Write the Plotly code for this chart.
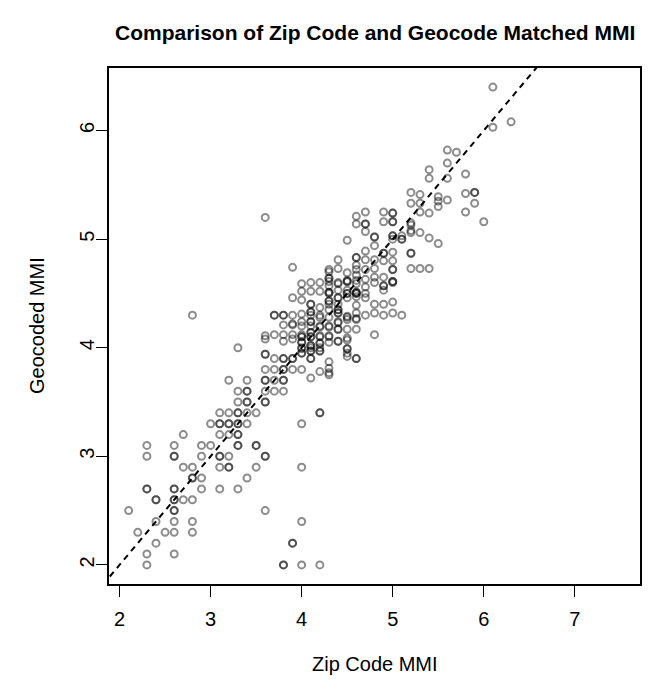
import plotly.graph_objects as go

# Zip code matched MMI (x) and geocode matched MMI (y)
zip_mmi = [
    2.1,
    2.2,
    2.3, 2.3, 2.3, 2.3, 2.3, 2.3,
    2.4, 2.4, 2.4, 2.4,
    2.5,
    2.6, 2.6, 2.6, 2.6, 2.6, 2.6, 2.6, 2.6, 2.6, 2.6, 2.6, 2.6,
    2.7, 2.7, 2.7,
    2.8, 2.8, 2.8, 2.8, 2.8, 2.8, 2.8,
    2.9, 2.9, 2.9, 2.9,
    3.0, 3.0,
    3.1, 3.1, 3.1, 3.1, 3.1, 3.1, 3.1, 3.1,
    3.2, 3.2, 3.2, 3.2, 3.2, 3.2, 3.2, 3.2,
    3.3, 3.3, 3.3, 3.3, 3.3, 3.3, 3.3, 3.3, 3.3, 3.3, 3.3, 3.3,
    3.4, 3.4, 3.4, 3.4, 3.4, 3.4, 3.4, 3.4,
    3.5, 3.5, 3.5, 3.5,
    3.6, 3.6, 3.6, 3.6, 3.6, 3.6, 3.6, 3.6, 3.6, 3.6, 3.6, 3.6, 3.6, 3.6,
    3.7, 3.7, 3.7, 3.7, 3.7, 3.7, 3.7,
    3.8, 3.8, 3.8, 3.8, 3.8, 3.8, 3.8, 3.8, 3.8, 3.8, 3.8, 3.8, 3.8, 3.8,
    3.9, 3.9, 3.9, 3.9, 3.9, 3.9, 3.9, 3.9, 3.9, 3.9, 3.9, 3.9,
    4.0, 4.0, 4.0, 4.0, 4.0, 4.0, 4.0, 4.0, 4.0, 4.0, 4.0, 4.0, 4.0, 4.0, 4.0, 4.0, 4.0,
    4.0, 4.0, 4.0,
    4.1, 4.1, 4.1, 4.1, 4.1, 4.1, 4.1, 4.1, 4.1, 4.1, 4.1, 4.1, 4.1, 4.1, 4.1, 4.1, 4.1, 4.1,
    4.1, 4.1, 4.1, 4.1,
    4.2, 4.2, 4.2, 4.2, 4.2, 4.2, 4.2, 4.2, 4.2, 4.2, 4.2, 4.2, 4.2, 4.2, 4.2,
    4.2, 4.2, 4.2,
    4.3, 4.3, 4.3, 4.3, 4.3, 4.3, 4.3, 4.3, 4.3, 4.3, 4.3, 4.3, 4.3, 4.3, 4.3, 4.3, 4.3, 4.3, 4.3, 4.3, 4.3,
    4.3, 4.3,
    4.4, 4.4, 4.4, 4.4, 4.4, 4.4, 4.4, 4.4, 4.4, 4.4, 4.4, 4.4, 4.4, 4.4, 4.4, 4.4,
    4.4, 4.4,
    4.5, 4.5, 4.5, 4.5, 4.5, 4.5, 4.5, 4.5, 4.5, 4.5, 4.5, 4.5, 4.5, 4.5, 4.5, 4.5, 4.5, 4.5, 4.5,
    4.6, 4.6, 4.6, 4.6, 4.6, 4.6, 4.6, 4.6, 4.6, 4.6, 4.6, 4.6, 4.6, 4.6, 4.6, 4.6, 4.6, 4.6, 4.6, 4.6, 4.6,
    4.7, 4.7, 4.7, 4.7, 4.7, 4.7, 4.7, 4.7, 4.7, 4.7, 4.7, 4.7,
    4.8, 4.8, 4.8, 4.8, 4.8, 4.8, 4.8, 4.8, 4.8, 4.8,
    4.9, 4.9, 4.9, 4.9, 4.9, 4.9, 4.9, 4.9, 4.9, 4.9, 4.9,
    5.0, 5.0, 5.0, 5.0, 5.0, 5.0, 5.0, 5.0, 5.0, 5.0, 5.0, 5.0, 5.0, 5.0, 5.0, 5.0,
    5.1, 5.1, 5.1, 5.1,
    5.2, 5.2, 5.2, 5.2, 5.2, 5.2, 5.2, 5.2, 5.2,
    5.3, 5.3, 5.3, 5.3, 5.3,
    5.4, 5.4, 5.4, 5.4, 5.4,
    5.5, 5.5, 5.5, 5.5,
    5.6, 5.6, 5.6, 5.6,
    5.7,
    5.8, 5.8, 5.8,
    5.9, 5.9, 5.9,
    6.0,
    6.1, 6.1,
    6.3,
]

geo_mmi = [
    2.5,
    2.3,
    3.1, 3.0, 2.7, 2.7, 2.1, 2.0,
    2.6, 2.6, 2.4, 2.2,
    2.3,
    3.1, 3.0, 3.0, 2.7, 2.7, 2.6, 2.6, 2.5, 2.5, 2.4, 2.3, 2.1,
    3.2, 2.9, 2.6,
    4.3, 2.9, 2.8, 2.8, 2.6, 2.4, 2.3,
    3.1, 3.0, 2.8, 2.7,
    3.3, 3.1,
    3.4, 3.3, 3.3, 3.2, 3.0, 3.0, 2.9, 2.7,
    3.7, 3.4, 3.3, 3.3, 3.2, 3.0, 2.9, 2.9,
    4.0, 3.6, 3.5, 3.4, 3.4, 3.3, 3.3, 3.2, 3.2, 3.1, 3.1, 2.7,
    3.7, 3.6, 3.6, 3.5, 3.5, 3.4, 3.3, 2.8,
    3.4, 3.1, 3.1, 2.9,
    5.2, 4.11, 4.08, 3.94, 3.94, 3.8, 3.7, 3.7, 3.6, 3.5, 3.5, 3.0, 3.0, 2.5,
    4.3, 4.3, 4.12, 3.9, 3.8, 3.7, 3.6,
    4.3, 4.3, 4.21, 4.12, 4.06, 3.9, 3.9, 3.8, 3.8, 3.7, 3.7, 3.6, 2.0, 2.0,
    4.74, 4.46, 4.3, 4.22, 4.21, 4.12, 4.08, 3.9, 3.9, 3.8, 2.2, 2.2,
    4.59, 4.52, 4.44, 4.31, 4.24, 4.12, 4.1, 4.05, 4.05, 3.99, 3.95, 3.95, 3.8, 3.3, 2.9, 2.4, 2.0,
    4.2, 4.0, 4.1,
    4.6, 4.52, 4.4, 4.4, 4.33, 4.33, 4.24, 4.24, 4.14, 4.14, 4.1, 4.02, 4.02, 3.97, 3.97, 3.9, 3.9, 3.72,
    4.3, 4.2, 4.0, 4.1,
    4.6, 4.52, 4.37, 4.28, 4.19, 4.11, 4.1, 4.04, 4.04, 3.97, 3.97, 3.78, 3.4, 3.4, 2.0,
    4.3, 4.2, 4.0,
    4.72, 4.7, 4.64, 4.64, 4.61, 4.57, 4.51, 4.51, 4.43, 4.43, 4.4, 4.35, 4.28, 4.19, 4.11, 4.1, 4.05, 3.87, 3.81, 3.77, 3.75,
    4.5, 4.2,
    4.81, 4.73, 4.59, 4.53, 4.46, 4.46, 4.35, 4.35, 4.32, 4.32, 4.24, 4.23, 4.17, 4.17, 4.06, 4.06,
    4.4, 4.6,
    4.99, 4.69, 4.62, 4.61, 4.61, 4.53, 4.5, 4.5, 4.46, 4.29, 4.28, 4.26, 4.17, 4.09, 4.07, 3.99, 3.99, 3.95, 3.92,
    5.21, 5.14, 4.83, 4.83, 4.76, 4.72, 4.67, 4.62, 4.59, 4.51, 4.51, 4.5, 4.5, 4.47, 4.39, 4.32, 4.27, 4.26, 4.17, 3.9, 3.9,
    5.25, 5.14, 5.14, 5.07, 4.89, 4.81, 4.72, 4.63, 4.56, 4.5, 4.46, 4.3,
    5.02, 5.02, 4.94, 4.81, 4.73, 4.65, 4.6, 4.4, 4.32, 4.12,
    5.25, 5.16, 4.87, 4.87, 4.8, 4.65, 4.57, 4.57, 4.53, 4.4, 4.3,
    5.24, 5.24, 5.16, 5.16, 5.03, 5.03, 5.0, 4.88, 4.8, 4.72, 4.72, 4.61, 4.61, 4.6, 4.42, 4.32,
    5.03, 5.0, 5.0, 4.3,
    5.43, 5.33, 5.15, 5.13, 5.08, 5.06, 4.87, 4.87, 4.73,
    5.41, 5.33, 5.25, 5.06, 4.73,
    5.64, 5.56, 5.24, 5.01, 4.73,
    5.39, 5.35, 5.3, 4.96,
    5.82, 5.7, 5.56, 5.36,
    5.8,
    5.6, 5.42, 5.25,
    5.43, 5.43, 5.33,
    5.16,
    6.4, 6.03,
    6.08,
]

assert len(zip_mmi) == len(geo_mmi), (len(zip_mmi), len(geo_mmi))

x_ticks = [2, 3, 4, 5, 6, 7]
y_ticks = [2, 3, 4, 5, 6]
x_lim = [2.1, 7.5]
y_lim = [2.0, 6.4]

# R-style 4% axis extension
def ext(lim):
    d = (lim[1] - lim[0]) * 0.04
    return [lim[0] - d, lim[1] + d]

x_range = ext(x_lim)
y_range = ext(y_lim)

FONT = "Liberation Sans, Arial, Helvetica, sans-serif"

fig = go.Figure()

fig.add_trace(go.Scatter(
    x=zip_mmi, y=geo_mmi, mode="markers",
    marker=dict(symbol="circle-open", size=7, color="rgba(0,0,0,0.45)",
                line=dict(width=2, color="rgba(0,0,0,0.45)")),
    hoverinfo="x+y", showlegend=False,
))

# abline(0, 1)
line_x = [x_range[0] - 1, x_range[1] + 1]
fig.add_trace(go.Scatter(
    x=line_x, y=[0 + 1 * v for v in line_x], mode="lines",
    line=dict(color="black", width=2, dash="6px,5px"),
    hoverinfo="skip", showlegend=False,
))

axis_common = dict(
    showgrid=False, zeroline=False, showline=True, linecolor="black",
    linewidth=2, mirror=True, ticks="outside", ticklen=11, tickwidth=1,
    tickcolor="black", tickfont=dict(family=FONT, size=20, color="black"),
)

fig.update_layout(
    width=657, height=681,
    margin=dict(l=109, r=17, t=68, b=97, pad=0),
    paper_bgcolor="white", plot_bgcolor="white",
    font=dict(family=FONT, color="black"),
    xaxis=dict(range=x_range, tickvals=x_ticks, ticktext=[str(v) for v in x_ticks],
               ticklabelstandoff=5, **axis_common),
    yaxis=dict(range=y_range, tickvals=y_ticks, ticktext=[str(v) for v in y_ticks],
               tickangle=-90, ticklabelstandoff=-6, **axis_common),
    annotations=[
        dict(text="<b>Comparison of Zip Code and Geocode Matched MMI</b>",
             xref="paper", yref="paper", x=0.5, y=1 + 36 / 516, xanchor="center",
             yanchor="middle", showarrow=False, font=dict(family=FONT, size=21)),
        dict(text="Zip Code MMI", xref="paper", yref="paper", x=0.5, y=-80 / 516,
             xanchor="center", yanchor="middle", showarrow=False,
             font=dict(family=FONT, size=20)),
        dict(text="Geocoded MMI", xref="paper", yref="paper", x=-72 / 531, y=0.5,
             xanchor="center", yanchor="middle", textangle=-90, showarrow=False,
             font=dict(family=FONT, size=20)),
    ],
)

fig.write_html("out.html")
